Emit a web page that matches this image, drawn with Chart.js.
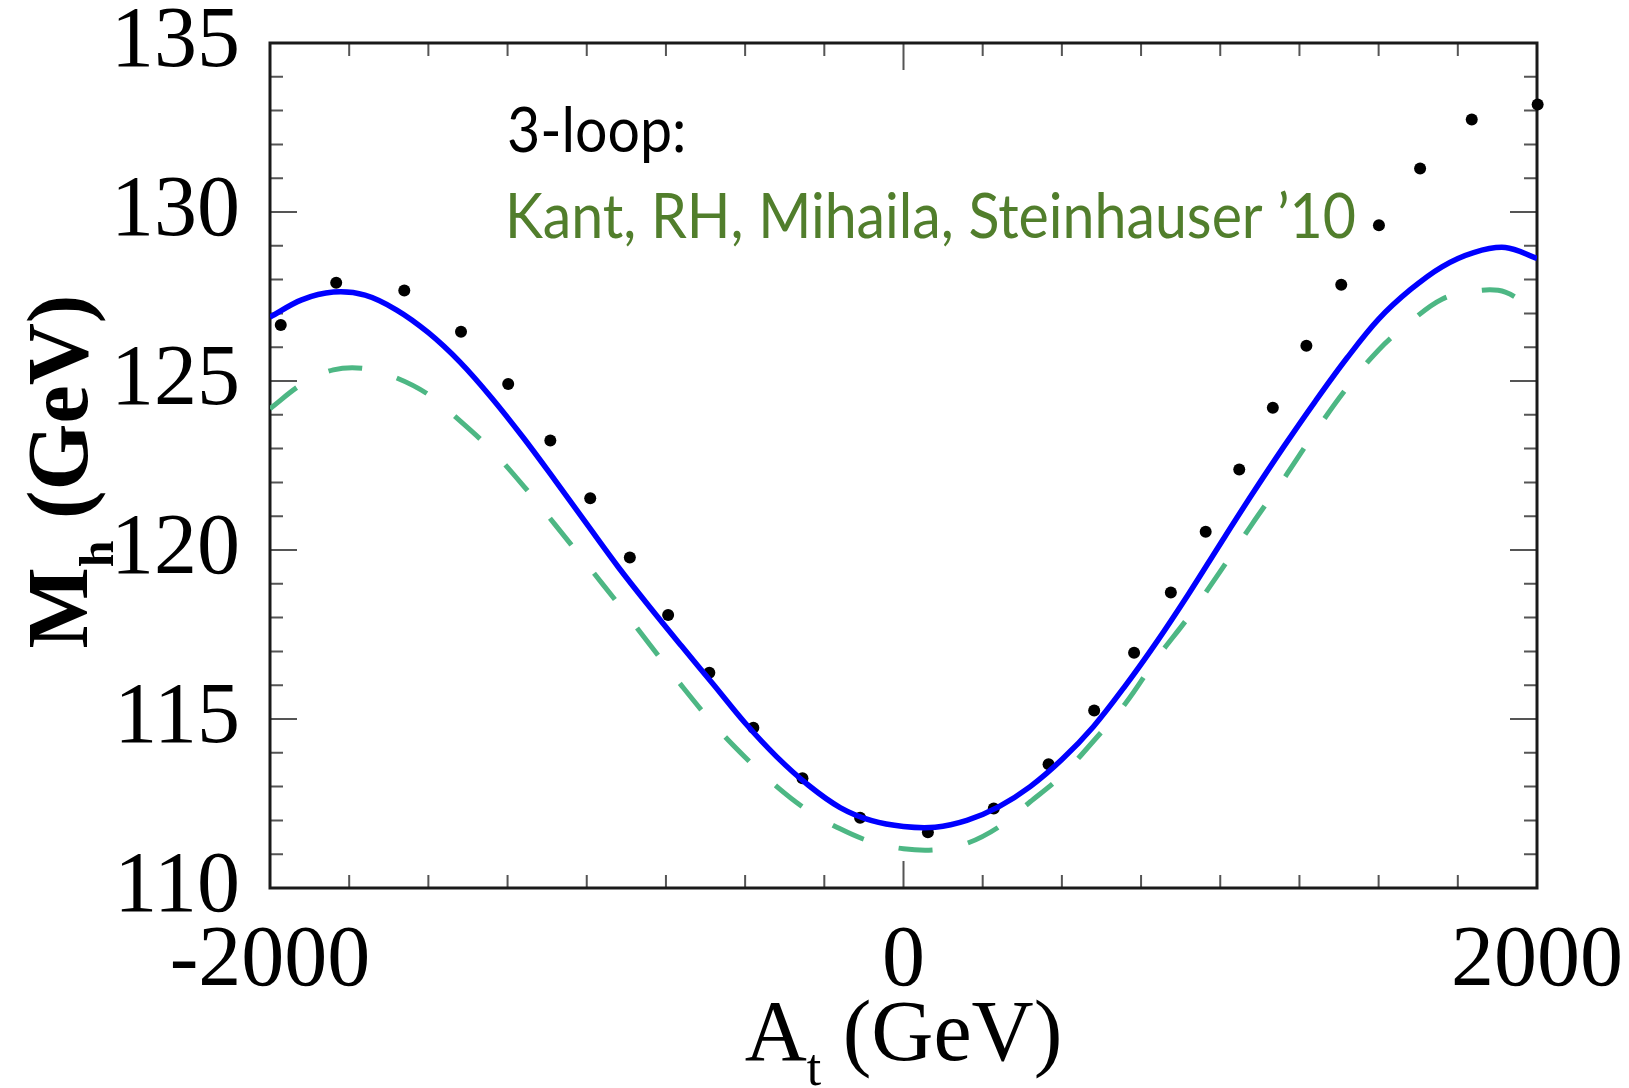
<!DOCTYPE html>
<html>
<head>
<meta charset="utf-8">
<script src="https://cdn.jsdelivr.net/npm/chart.js@4.4.1/dist/chart.umd.min.js"></script>
<style>
  html, body { margin: 0; padding: 0; background: #fff; }
  #wrap { width: 1629px; height: 1088px; position: relative; }
</style>
</head>
<body>
<div id="wrap"><canvas id="c"></canvas></div>
<script>
'use strict';

// ── データ───────────────────────────────────────
const atGrid = [
  -2000, -1900, -1800, -1700, -1600, -1500, -1400, -1300, -1200, -1100,
  -1000, -900, -800, -700, -600, -500, -400, -300, -200, -100,
  0, 100, 200, 300, 400, 500, 600, 700, 800, 900,
  1000, 1100, 1200, 1300, 1400, 1500, 1600, 1700, 1800, 1900, 2000
];
// 青の実線
const mhBlue = [
  126.89, 127.40, 127.63, 127.54, 127.10, 126.43, 125.56, 124.50, 123.32, 122.06,
  120.77, 119.49, 118.30, 117.15, 116.02, 114.88, 113.88, 113.04, 112.38, 111.99,
  111.82, 111.80, 112.00, 112.40, 113.00, 113.80, 114.78, 115.98, 117.29, 118.70,
  120.18, 121.64, 123.05, 124.40, 125.68, 126.83, 127.70, 128.38, 128.80, 128.95, 128.63
];
// 緑の破線
const mhGreen = [
  124.18, 124.90, 125.33, 125.37, 125.09, 124.60, 123.82, 122.95, 121.90, 120.75,
  119.58, 118.40, 117.19, 115.98, 114.85, 113.87, 113.00, 112.28, 111.75, 111.36,
  111.16, 111.13, 111.32, 111.80, 112.55, 113.33, 114.35, 115.45, 116.80, 118.02,
  119.37, 120.76, 122.10, 123.50, 124.80, 125.92, 126.75, 127.42, 127.66, 127.63, 127.00
];
// 黒の点
const dotAt = [
  -1966, -1791, -1576, -1397, -1248, -1115, -989, -864, -743, -613,
  -474, -319, -137, 77, 285, 458, 602, 728, 844, 954,
  1060, 1166, 1272, 1382, 1501, 1631, 1794, 2002
];
const dotMh = [
  126.66, 127.91, 127.68, 126.46, 124.91, 123.24, 121.53, 119.78, 118.08, 116.37,
  114.74, 113.25, 112.08, 111.65, 112.35, 113.66, 115.25, 116.96, 118.74, 120.54,
  122.38, 124.21, 126.04, 127.85, 129.61, 131.29, 132.74, 133.18
];

const xTickValues = [-2000, 0, 2000];
const yTickValues = [110, 115, 120, 125, 130, 135];
const label3loop = '3-loop:';
const labelRef = 'Kant, RH, Mihaila, Steinhauser ’10';

const pts = (xs, ys) => xs.map((x, i) => ({ x, y: ys[i] }));

// ── 枠と内向き目盛り ─────────────────────────────────────
const frame = {
  id: 'frame',
  beforeDatasetsDraw(chart) {
    const { ctx, chartArea: a, scales: { x, y } } = chart;
    ctx.save();
    ctx.strokeStyle = '#555';
    ctx.lineWidth = 2;
    ctx.beginPath();
    for (let v = x.min; v <= x.max; v += 250) {
      const px = x.getPixelForValue(v);
      const len = v % 2000 === 0 ? 27 : 13;
      ctx.moveTo(px, a.bottom); ctx.lineTo(px, a.bottom - len);
      ctx.moveTo(px, a.top);    ctx.lineTo(px, a.top + len);
    }
    for (let v = y.min; v <= y.max; v++) {
      const py = y.getPixelForValue(v);
      const len = v % 5 === 0 ? 27 : 13;
      ctx.moveTo(a.left, py);  ctx.lineTo(a.left + len, py);
      ctx.moveTo(a.right, py); ctx.lineTo(a.right - len, py);
    }
    ctx.stroke();
    ctx.strokeStyle = '#1a1a1a';
    ctx.lineWidth = 3;
    ctx.strokeRect(a.left, a.top, a.right - a.left, a.bottom - a.top);
    ctx.restore();
  }
};

// 添字つきテキスト
function drawSub(ctx, main, sub, rest, fMain, fSub, drop, cx, baseY) {
  ctx.font = fMain;
  const w1 = ctx.measureText(main).width;
  const w3 = ctx.measureText(rest).width;
  ctx.font = fSub;
  const w2 = ctx.measureText(sub).width;
  let x = cx - (w1 + w2 + w3) / 2;
  ctx.textAlign = 'left';
  ctx.textBaseline = 'alphabetic';
  ctx.font = fMain; ctx.fillText(main, x, baseY); x += w1;
  ctx.font = fSub;  ctx.fillText(sub, x, baseY + drop); x += w2;
  ctx.font = fMain; ctx.fillText(rest, x, baseY);
}

// ── 軸タイトルと注記 ─────────────────────────────────────
const texts = {
  id: 'texts',
  afterDraw(chart) {
    const { ctx, chartArea: a } = chart;
    const cx = (a.left + a.right) / 2;
    const cy = (a.top + a.bottom) / 2;
    ctx.save();
    ctx.fillStyle = '#000';
    drawSub(ctx, 'A', 't', ' (GeV)', '86px "Liberation Serif"', '52px "Liberation Serif"', 25, cx, 1060);

    ctx.save();
    ctx.translate(87, cy + 6);
    ctx.rotate(-Math.PI / 2);
    drawSub(ctx, 'M', 'h', ' (GeV)', 'bold 86px "Liberation Serif"', 'bold 48px "Liberation Serif"', 26, 0, 0);
    ctx.restore();

    // 注記（Gill Sans 風、横幅を合わせる）
    ctx.font = '62px Lato';
    ctx.textAlign = 'left';
    ctx.textBaseline = 'alphabetic';
    const sx = 851 / ctx.measureText(labelRef).width;
    ctx.save();
    ctx.translate(a.left + 237, a.top + 109);
    ctx.scale(sx, 1);
    ctx.fillStyle = '#000';
    ctx.fillText(label3loop, 0, 0);
    ctx.restore();
    ctx.save();
    ctx.translate(a.left + 235, a.top + 195);
    ctx.scale(sx, 1);
    ctx.fillStyle = '#517e2c';
    ctx.fillText(labelRef, 0, 0);
    ctx.restore();
    ctx.restore();
  }
};

const tickFont = { family: 'Liberation Serif', size: 86 };

new Chart(document.getElementById('c'), {
  type: 'scatter',
  data: {
    datasets: [
      {
        data: pts(atGrid, mhBlue),
        showLine: true,
        borderColor: '#0000ff',
        borderWidth: 5.5,
        pointRadius: 0,
        tension: 0.35,
        order: 0,
      },
      {
        data: pts(atGrid, mhGreen),
        showLine: true,
        borderColor: '#4db784',
        borderWidth: 5,
        borderDash: [34, 36],
        borderCapStyle: 'butt',
        pointRadius: 0,
        tension: 0.35,
        order: 1,
      },
      {
        data: pts(dotAt, dotMh),
        showLine: false,
        pointRadius: 6,
        pointBackgroundColor: '#000',
        pointBorderWidth: 0,
        clip: false,
        order: 2,
      },
    ],
  },
  options: {
    responsive: true,
    maintainAspectRatio: false,
    animation: false,
    events: [],
    layout: { padding: { top: 43, right: 92, left: 0, bottom: 0 } },
    plugins: { legend: { display: false }, tooltip: { enabled: false } },
    scales: {
      x: {
        type: 'linear',
        min: -2000,
        max: 2000,
        afterBuildTicks: s => { s.ticks = xTickValues.map(v => ({ value: v })); },
        afterFit: s => { s.height = 200; s.paddingLeft = 0; s.paddingRight = 0; },
        grid: { display: false, drawTicks: false },
        border: { display: false },
        ticks: { font: tickFont, color: '#000', padding: 23, maxRotation: 0, autoSkip: false, callback: v => String(v) },
      },
      y: {
        type: 'linear',
        min: 110,
        max: 135,
        afterBuildTicks: s => { s.ticks = yTickValues.map(v => ({ value: v })); },
        afterFit: s => { s.width = 270; s.paddingTop = 0; s.paddingBottom = 0; },
        grid: { display: false, drawTicks: false },
        border: { display: false },
        ticks: { font: tickFont, color: '#000', padding: 30, autoSkip: false, callback: v => String(v) },
      },
    },
  },
  plugins: [frame, texts],
});
</script>
</body>
</html>
